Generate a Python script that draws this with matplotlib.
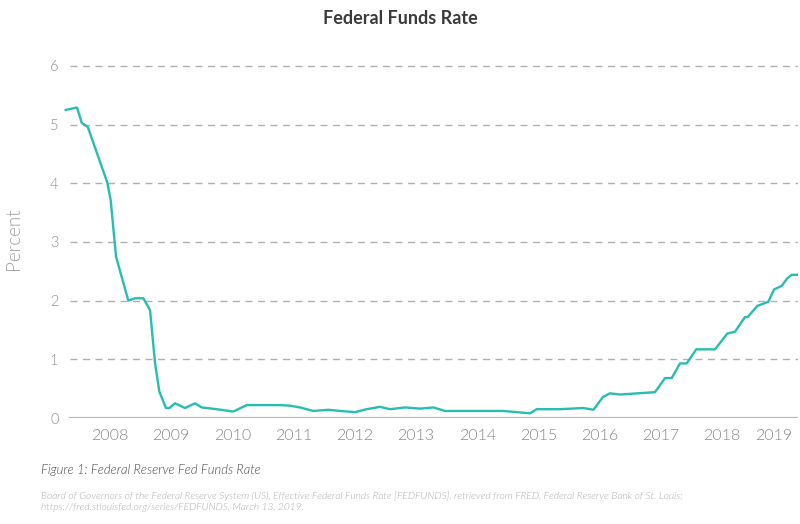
import matplotlib
matplotlib.use("Agg")
import matplotlib.pyplot as plt

plt.rcParams['font.family'] = ['Lato', 'DejaVu Sans']

# effective fed funds rate (decimal year, percent)
dates = [2007.276, 2007.461, 2007.538, 2007.636, 2007.956, 2008.011, 2008.098,
         2008.299, 2008.408, 2008.544, 2008.654, 2008.735, 2008.806, 2008.915,
         2008.969, 2009.062, 2009.225, 2009.389, 2009.498, 2009.743, 2010.015,
         2010.234, 2010.778, 2010.940, 2011.105, 2011.322, 2011.567, 2011.758,
         2012.003, 2012.194, 2012.412, 2012.575, 2012.820, 2013.065, 2013.283,
         2013.474, 2014.426, 2014.863, 2014.972, 2015.353, 2015.734, 2015.900,
         2016.056, 2016.170, 2016.333, 2016.905, 2017.069, 2017.178, 2017.314,
         2017.423, 2017.580, 2017.886, 2018.087, 2018.212, 2018.376, 2018.420,
         2018.577, 2018.756, 2018.850, 2018.975, 2019.067, 2019.137, 2019.230]
rate = [5.25, 5.29, 5.03, 4.96, 4.01, 3.71, 2.75,
        2.00, 2.04, 2.04, 1.84, 0.94, 0.45, 0.17,
        0.17, 0.25, 0.17, 0.25, 0.18, 0.15, 0.11,
        0.22, 0.22, 0.21, 0.18, 0.12, 0.14, 0.12,
        0.10, 0.15, 0.19, 0.15, 0.18, 0.16, 0.18,
        0.12, 0.12, 0.08, 0.15, 0.15, 0.17, 0.14,
        0.36, 0.42, 0.40, 0.44, 0.68, 0.68, 0.93,
        0.93, 1.17, 1.17, 1.44, 1.47, 1.72, 1.72,
        1.91, 1.98, 2.19, 2.25, 2.38, 2.44, 2.44]

year_ticks = [2008, 2009, 2010, 2011, 2012, 2013, 2014, 2015, 2016, 2017, 2018, 2018.85]
year_labels = ['2008', '2009', '2010', '2011', '2012', '2013', '2014', '2015',
               '2016', '2017', '2018', '2019']
y_ticks = [0, 1, 2, 3, 4, 5, 6]

fig = plt.figure(figsize=(8, 5.24), dpi=100)
ax = fig.add_axes([64 / 800, 106 / 524, 734 / 800, 358 / 524])

ax.plot(dates, rate, color='#27bdb1', lw=1.7, solid_joinstyle='round', zorder=3)

ax.set_xlim(2007.248, 2019.242)
ax.set_ylim(0, 6.1)

# dashed gridlines start a little right of where the line begins
for t in y_ticks[1:]:
    ax.axhline(t, xmin=0.008, xmax=1, color='#b0b0b0', lw=1, dashes=(5, 4), zorder=1)
ax.axhline(0, xmin=0.008, xmax=1, color='#b8b8b8', lw=1.6, zorder=2)

for s in ax.spines.values():
    s.set_visible(False)

ax.set_yticks(y_ticks)
ax.set_yticklabels([str(t) for t in y_ticks], fontweight=300)
ax.set_xticks(year_ticks)
ax.set_xticklabels(year_labels, fontweight=300)
ax.tick_params(axis='y', length=0, pad=4, labelsize=10.5, labelcolor='#8f8f8f')
ax.tick_params(axis='x', length=0, pad=8, labelsize=11.5, labelcolor='#888888')
ax.set_ylabel('Percent', fontsize=13.5, color='#a0a0a0', labelpad=20, fontweight=300)

fig.text(0.5, 1 - 18 / 524, 'Federal Funds Rate', ha='center', va='center',
         fontsize=13, fontweight='bold', color='#3a3a3a')
fig.text(41 / 800, 1 - 470 / 524, 'Figure 1: Federal Reserve Fed Funds Rate',
         ha='left', va='center', fontsize=9.4, style='italic', color='#4a4a4a',
         fontweight=300)
fig.text(41 / 800, 1 - 496 / 524,
         'Board of Governors of the Federal Reserve System (US), Effective Federal Funds Rate '
         '[FEDFUNDS], retrieved from FRED, Federal Reserve Bank of St. Louis;',
         ha='left', va='center', fontsize=7.3, style='italic', color='#acacac',
         fontweight=300)
fig.text(41 / 800, 1 - 508 / 524,
         'https://fred.stlouisfed.org/series/FEDFUNDS, March 13, 2019.',
         ha='left', va='center', fontsize=7.3, style='italic', color='#acacac',
         fontweight=300)

fig.savefig('out.png', dpi=100)
